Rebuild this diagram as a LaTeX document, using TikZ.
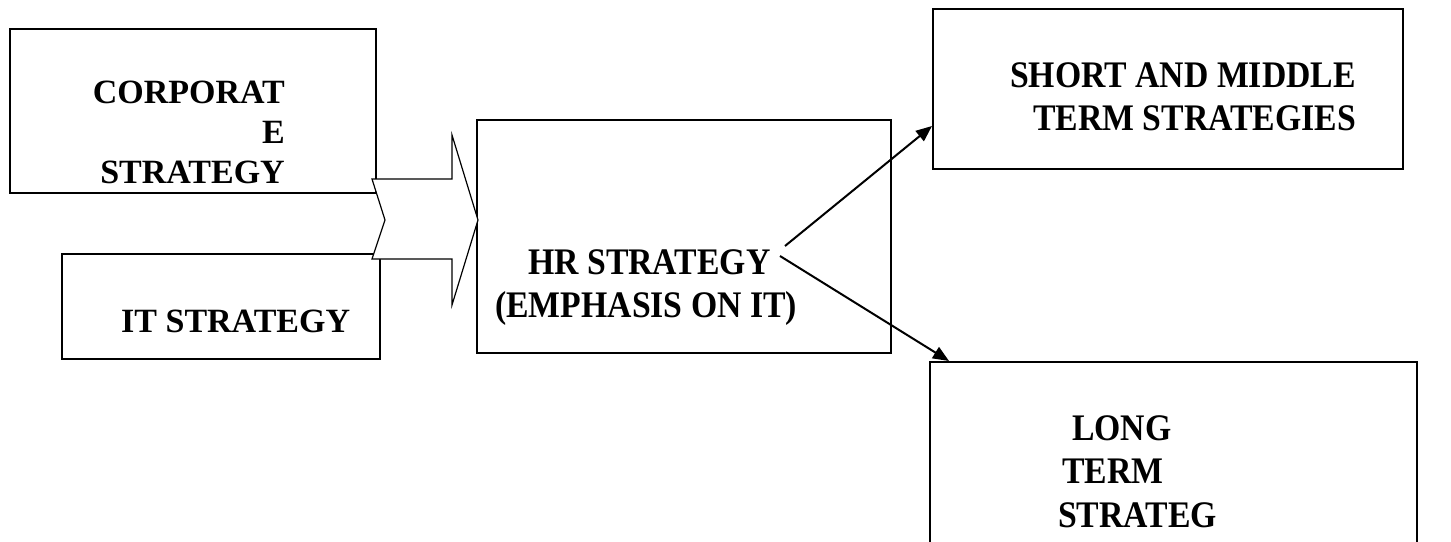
\documentclass[tikz,border=0pt]{standalone}
\usepackage{fontspec}
\setmainfont{Liberation Serif}
\newfontfamily\narrowbf[FakeStretch=0.9]{Liberation Serif}
\usetikzlibrary{arrows.meta}

\tikzset{
	box/.style={draw, line width=2pt, rectangle, inner sep=0pt},
	txt/.style={inner sep=0pt, font=\fontsize{34}{40}\selectfont\bfseries},
	ntxt/.style={inner sep=0pt, font=\fontsize{37.5}{44}\narrowbf\bfseries},
	link/.style={line width=2pt, -{Triangle[length=16pt, width=13pt]}}
}

\begin{document}
\begin{tikzpicture}[x=1pt, y=-1pt]
		\useasboundingbox[fill=white] (0,0) rectangle (1451,541);
		% boxes
		\node[box, minimum width=366, minimum height=164] (corp) at (193,111) {};
		\node[box, minimum width=318, minimum height=105] (it) at (221,306.5) {};
		\node[box, minimum width=414, minimum height=233] (hr) at (684,236.5) {};
		\node[box, minimum width=470, minimum height=160] (short) at (1168,89) {};
		\node[box, minimum width=487, minimum height=198] (long) at (1173.5,461) {};
		% texts
		\node[txt, anchor=base east] (corp1) at (285,103) {CORPORAT};
		\node[txt, anchor=base east] (corp2) at (285,143) {E};
		\node[txt, anchor=base east] (corp3) at (285,183) {STRATEGY};
		\node[txt, anchor=base west] (it1) at (121,332) {IT STRATEGY};
		\node[ntxt, anchor=base west] (hr1) at (528,274) {HR STRATEGY};
		\node[ntxt, anchor=base west] (hr2) at (495,317) {(EMPHASIS ON IT)};
		\node[ntxt, anchor=base west] (short1) at (1010,87) {SHORT AND MIDDLE};
		\node[ntxt, anchor=base west] (short2) at (1033,130) {TERM STRATEGIES};
		\node[ntxt, anchor=base west] (long1) at (1072,440) {LONG};
		\node[ntxt, anchor=base west] (long2) at (1062,483) {TERM};
		\node[ntxt, anchor=base west] (long3) at (1058,527) {STRATEG};
		% merging arrow
		\draw[line width=1.2pt, fill=white, line join=miter]
			(372,179) -- (452,179) -- (452,135) -- (478,220) -- (452,305)
			-- (452,259) -- (372,259) -- (385,220) -- cycle;
		% links
		\coordinate (fork1) at (785,246);
		\coordinate (fork2) at (780,256);
		\draw[link] (fork1) -- ([yshift=44pt]short.south west);
		\draw[link] (fork2) -- ([xshift=20pt]long.north west);
		\end{tikzpicture}
\end{document}
